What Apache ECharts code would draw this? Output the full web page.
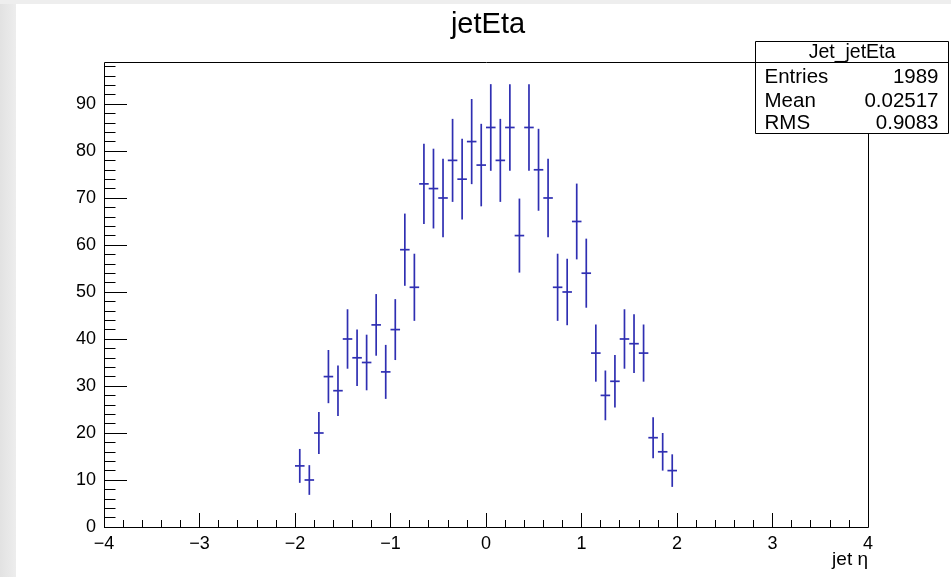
<!DOCTYPE html>
<html>
<head>
<meta charset="utf-8">
<title>jetEta</title>
<script src="https://cdn.jsdelivr.net/npm/echarts@6/dist/echarts.min.js"></script>
<style>
  html, body { margin: 0; padding: 0; background: #ffffff; }
  #chart { width: 951px; height: 577px; }
</style>
</head>
<body>
<div id="chart"></div>
<script>
// Jet pseudorapidity histogram: 40 bins of width 0.1 between -2 and 2
const binCenters = [
  -1.95, -1.85, -1.75, -1.65, -1.55, -1.45, -1.35, -1.25, -1.15, -1.05,
  -0.95, -0.85, -0.75, -0.65, -0.55, -0.45, -0.35, -0.25, -0.15, -0.05,
   0.05,  0.15,  0.25,  0.35,  0.45,  0.55,  0.65,  0.75,  0.85,  0.95,
   1.05,  1.15,  1.25,  1.35,  1.45,  1.55,  1.65,  1.75,  1.85,  1.95
];
const binCounts = [
  13, 10, 20, 32, 29, 40, 36, 35, 43, 33,
  42, 59, 51, 73, 72, 70, 78, 74, 82, 77,
  85, 78, 85, 62, 85, 76, 70, 51, 50, 65,
  54, 37, 28, 31, 40, 39, 37, 19, 16, 12
];
const binHalfWidth = 0.05;

// Axis ticks and labels
const xRange = [-4, 4];
const yTickValues = [0, 10, 20, 30, 40, 50, 60, 70, 80, 90];

// Statistics box text
const statsTitle = 'Jet_jetEta';
const statsNames = ['Entries', 'Mean', 'RMS'];
const statsValues = ['1989', '0.02517', '0.9083'];

const chartTitle = 'jetEta';
const xAxisTitle = 'jet \u03b7';

const FONT = '"Liberation Sans", Arial, Helvetica, sans-serif';
const MARK = '#2f2fb2';
const INK = '#000000';

// Poisson errors on the bin contents
const histData = binCenters.map((c, i) => [c, binCounts[i], Math.sqrt(binCounts[i])]);

// Frame top follows the usual 5% margin above the highest error bar
const frameTopValue = Math.max(...histData.map(d => d[1] + d[2])) * 1.05;

// Frame placement on the canvas
const frameLeftPx = 104, frameRightPx = 868, frameTopPx = 62, frameBottomPx = 527;
const pxPerUnit = (frameBottomPx - frameTopPx) / frameTopValue;
const axisMaxY = 100;
const gridTopPx = frameBottomPx - axisMaxY * pxPerUnit;

const chart = echarts.init(document.getElementById('chart'), null, { renderer: 'canvas' });

chart.setOption({
  backgroundColor: '#ffffff',
  animation: false,
  title: {
    text: chartTitle,
    left: 483,
    top: 5,
    textAlign: 'center',
    textStyle: { fontFamily: FONT, fontSize: 29, fontWeight: 'normal', color: INK }
  },
  grid: {
    left: frameLeftPx,
    right: 951 - frameRightPx,
    top: gridTopPx,
    bottom: 577 - frameBottomPx,
    show: false
  },
  xAxis: {
    type: 'value',
    min: xRange[0],
    max: xRange[1],
    interval: 1,
    axisLine: { show: false, onZero: false },
    splitLine: { show: false },
    axisTick: { show: true, inside: true, length: 14, lineStyle: { color: INK, width: 1 } },
    minorTick: { show: true, splitNumber: 5, length: 7, lineStyle: { color: INK, width: 1 } },
    axisLabel: {
      fontFamily: FONT, fontSize: 18, color: INK, margin: 8,
      formatter: v => String(v).replace('-', '\u2212')
    }
  },
  yAxis: {
    type: 'value',
    min: 0,
    max: axisMaxY,
    interval: 10,
    axisLine: { show: false, onZero: false },
    splitLine: { show: false },
    axisTick: { show: true, inside: true, length: 23, customValues: yTickValues, lineStyle: { color: INK, width: 1 } },
    minorTick: { show: true, splitNumber: 5, length: 11.5, lineStyle: { color: INK, width: 1 } },
    axisLabel: { fontFamily: FONT, fontSize: 18, color: INK, margin: 8, customValues: yTickValues }
  },
  series: [{
    type: 'custom',
    name: statsTitle,
    data: histData,
    encode: { x: 0, y: 1 },
    clip: false,
    renderItem: (params, api) => {
      const x = api.value(0), y = api.value(1), e = api.value(2);
      const lo = api.coord([x, y - e]);
      const hi = api.coord([x, y + e]);
      const l = api.coord([x - binHalfWidth, y]);
      const r = api.coord([x + binHalfWidth, y]);
      const style = { stroke: MARK, lineWidth: 1.7 };
      return {
        type: 'group',
        children: [
          { type: 'line', shape: { x1: lo[0], y1: lo[1], x2: hi[0], y2: hi[1] }, style },
          { type: 'line', shape: { x1: l[0], y1: l[1], x2: r[0], y2: r[1] }, style }
        ]
      };
    }
  }]
});

// Frame, statistics box and page decorations placed through the axis scales
const p0 = chart.convertToPixel({ gridIndex: 0 }, [xRange[0], 0]);
const p1 = chart.convertToPixel({ gridIndex: 0 }, [xRange[1], frameTopValue]);
const fx = Math.round(p0[0]) + 0.5, fy = Math.round(p1[1]) + 0.5;
const fw = Math.round(p1[0]) - Math.round(p0[0]);
const fh = Math.round(p0[1]) - Math.round(p1[1]);

const box = { x: 755.5, y: 41.5, w: 193, h: 92, head: 21 };
const rowY = [77.5, 101, 123.5];
const statText = { fontFamily: FONT, fontSize: 20.5, fill: INK, textVerticalAlign: 'middle' };

const graphics = [
  {
    type: 'rect', z: 0, silent: true,
    shape: { x: 0, y: 0, width: 16, height: 577 },
    style: { fill: new echarts.graphic.LinearGradient(0, 0, 1, 0, [
      { offset: 0, color: '#e2e2e2' }, { offset: 1, color: '#ededed' }]) }
  },
  {
    type: 'rect', z: 0, silent: true,
    shape: { x: 0, y: 0, width: 951, height: 4 },
    style: { fill: '#eeeeee' }
  },
  {
    type: 'rect', z: 50, silent: true,
    shape: { x: fx, y: fy, width: fw, height: fh },
    style: { fill: null, stroke: INK, lineWidth: 1 }
  },
  {
    type: 'text', z: 50, silent: true,
    style: Object.assign({}, statText, { fontSize: 19, x: Math.round(p1[0]), y: 560, text: xAxisTitle, textAlign: 'right' })
  },
  {
    type: 'rect', z: 60, silent: true,
    shape: { x: box.x, y: box.y, width: box.w, height: box.h },
    style: { fill: '#ffffff', stroke: INK, lineWidth: 1 }
  },
  {
    type: 'line', z: 61, silent: true,
    shape: { x1: box.x, y1: box.y + box.head, x2: box.x + box.w, y2: box.y + box.head },
    style: { stroke: INK, lineWidth: 1 }
  },
  {
    type: 'text', z: 61, silent: true,
    style: Object.assign({}, statText, { fontSize: 19.5, x: box.x + box.w / 2, y: box.y + box.head / 2 + 0.5, text: statsTitle, textAlign: 'center' })
  }
];
statsNames.forEach((name, i) => {
  graphics.push({
    type: 'text', z: 61, silent: true,
    style: Object.assign({}, statText, { x: box.x + 9, y: rowY[i], text: name, textAlign: 'left' })
  });
  graphics.push({
    type: 'text', z: 61, silent: true,
    style: Object.assign({}, statText, { x: box.x + box.w - 10, y: rowY[i], text: statsValues[i], textAlign: 'right' })
  });
});

chart.setOption({ graphic: graphics });
</script>
</body>
</html>
